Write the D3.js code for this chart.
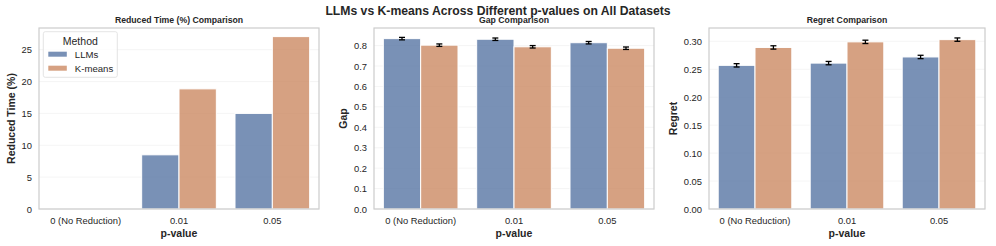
<!DOCTYPE html>
<html>
<head>
<meta charset="utf-8">
<script src="https://cdn.jsdelivr.net/npm/d3@7"></script>
<style>
  body { margin: 0; background: #fff; }
  text { font-family: "Liberation Sans", Arial, sans-serif; fill: #262626; }
</style>
</head>
<body>
<script>
// data
var pvalues = ["0 (No Reduction)", "0.01", "0.05"];
var methods = ["LLMs", "K-means"];
var method_colors = ["#5875a4", "#cc8963"];

var reduced_llms = [0, 8.5, 15.0];
var reduced_kmeans = [0, 18.85, 27.05];

var gap_llms = [0.834, 0.831, 0.814];
var gap_kmeans = [0.802, 0.794, 0.787];
var gap_llms_err = [0.006, 0.006, 0.006];
var gap_kmeans_err = [0.006, 0.006, 0.006];

var regret_llms = [0.257, 0.261, 0.272];
var regret_kmeans = [0.289, 0.299, 0.303];
var regret_llms_err = [0.003, 0.003, 0.003];
var regret_kmeans_err = [0.003, 0.003, 0.003];

var reduced_ticks = [0, 5, 10, 15, 20, 25];
var gap_ticks = [0, 0.1, 0.2, 0.3, 0.4, 0.5, 0.6, 0.7, 0.8];
var regret_ticks = [0, 0.05, 0.10, 0.15, 0.20, 0.25, 0.30];

var W = 996, H = 246;
var svg = d3.select("body").append("svg")
  .attr("width", W)
  .attr("height", H);

svg.append("text")
  .attr("x", 498)
  .attr("y", 15)
  .attr("text-anchor", "middle")
  .style("font-size", "12.2px")
  .style("font-weight", "bold")
  .text("LLMs vs K-means Across Different p-values on All Datasets");

var panels = [
  {left: 39, right: 319, title: "Reduced Time (%) Comparison", ylabel: "Reduced Time (%)",
   series: [reduced_llms, reduced_kmeans], errs: null, ymax: 28.4, ticks: reduced_ticks, fmt: d3.format("d"), legend: true},
  {left: 374, right: 654, title: "Gap Comparison", ylabel: "Gap",
   series: [gap_llms, gap_kmeans], errs: [gap_llms_err, gap_kmeans_err], ymax: 0.886, ticks: gap_ticks, fmt: d3.format(".1f"), legend: false},
  {left: 709, right: 985, title: "Regret Comparison", ylabel: "Regret",
   series: [regret_llms, regret_kmeans], errs: [regret_llms_err, regret_kmeans_err], ymax: 0.3238, ticks: regret_ticks, fmt: d3.format(".2f"), legend: false}
];

var plot_top = 28, plot_bottom = 209;

panels.forEach(function(p){
  var g = svg.append("g");

  var x = d3.scaleBand().domain(pvalues).range([p.left, p.right]).paddingInner(0.2).paddingOuter(0.1);
  var xm = d3.scaleBand().domain(methods).range([0, x.bandwidth()]);
  var y = d3.scaleLinear().domain([0, p.ymax]).range([plot_bottom, plot_top]);

  // faint grid
  g.selectAll("line.grid")
    .data(p.ticks)
    .enter()
    .append("line")
    .attr("class", "grid")
    .attr("x1", p.left).attr("x2", p.right)
    .attr("y1", function(d){ return y(d); })
    .attr("y2", function(d){ return y(d); })
    .style("stroke", "#f3f3f3")
    .style("stroke-width", 0.8);

  // bars
  methods.forEach(function(m, mi){
    var vals = p.series[mi];
    g.selectAll("rect.b" + mi)
      .data(vals)
      .enter()
      .append("rect")
      .attr("class", "b" + mi)
      .attr("x", function(d, i){ return x(pvalues[i]) + xm(m); })
      .attr("y", function(d){ return y(d); })
      .attr("width", xm.bandwidth())
      .attr("height", function(d){ return y(0) - y(d); })
      .style("fill", method_colors[mi])
      .style("fill-opacity", 0.8)
      .style("stroke", "#fff")
      .style("stroke-width", 1);

    if(p.errs){
      var errs = p.errs[mi];
      var eg = g.selectAll("g.e" + mi)
        .data(vals)
        .enter()
        .append("g")
        .attr("class", "e" + mi)
        .attr("transform", function(d, i){
          return "translate(" + (x(pvalues[i]) + xm(m) + xm.bandwidth() / 2) + ",0)";
        });
      eg.append("line")
        .attr("y1", function(d, i){ return y(d - errs[i]); })
        .attr("y2", function(d, i){ return y(d + errs[i]); })
        .style("stroke", "#000").style("stroke-width", 1.3);
      eg.append("line")
        .attr("x1", -3).attr("x2", 3)
        .attr("y1", function(d, i){ return y(d - errs[i]); })
        .attr("y2", function(d, i){ return y(d - errs[i]); })
        .style("stroke", "#000").style("stroke-width", 1.3);
      eg.append("line")
        .attr("x1", -3).attr("x2", 3)
        .attr("y1", function(d, i){ return y(d + errs[i]); })
        .attr("y2", function(d, i){ return y(d + errs[i]); })
        .style("stroke", "#000").style("stroke-width", 1.3);
    }
  });

  // frame
  g.append("rect")
    .attr("x", p.left).attr("y", plot_top)
    .attr("width", p.right - p.left).attr("height", plot_bottom - plot_top)
    .style("fill", "none")
    .style("stroke", "#cccccc")
    .style("stroke-width", 1.2);

  // axes
  var yAxis = d3.axisLeft(y).tickValues(p.ticks).tickFormat(p.fmt).tickSize(0).tickPadding(7);
  var ya = g.append("g").attr("transform", "translate(" + p.left + ",0)").call(yAxis);
  ya.select(".domain").remove();
  ya.selectAll("text").style("font-size", "9.4px").style("fill", "#262626");

  var xAxis = d3.axisBottom(x).tickSize(0).tickPadding(8);
  var xa = g.append("g").attr("transform", "translate(0," + plot_bottom + ")").call(xAxis);
  xa.select(".domain").remove();
  xa.selectAll("text").style("font-size", "9.4px").style("fill", "#262626");

  // titles
  g.append("text")
    .attr("x", (p.left + p.right) / 2)
    .attr("y", 22.5)
    .attr("text-anchor", "middle")
    .style("font-size", "8.7px")
    .style("font-weight", "bold")
    .text(p.title);

  g.append("text")
    .attr("x", (p.left + p.right) / 2)
    .attr("y", 236.5)
    .attr("text-anchor", "middle")
    .style("font-size", "10.5px")
    .style("font-weight", "bold")
    .text("p-value");

  // y label placed next to the tick labels
  var tick_box = ya.node().getBBox();
  var ylab_x = p.left + tick_box.x - 6.5;
  g.append("text")
    .attr("transform", "translate(" + ylab_x + "," + ((plot_top + plot_bottom) / 2) + ") rotate(-90)")
    .attr("text-anchor", "middle")
    .style("font-size", "10.5px")
    .style("font-weight", "bold")
    .text(p.ylabel);

  // legend
  if(p.legend){
    var lg = g.append("g").attr("transform", "translate(" + (p.left + 4.3) + "," + 31.7 + ")");
    lg.append("rect")
      .attr("width", 74).attr("height", 45.6)
      .attr("rx", 2)
      .style("fill", "#fff").style("fill-opacity", 0.8)
      .style("stroke", "#dddddd").style("stroke-width", 0.8);
    lg.append("text")
      .attr("x", 37).attr("y", 13.3)
      .attr("text-anchor", "middle")
      .style("font-size", "10.5px")
      .text("Method");
    var items = lg.selectAll("g.item")
      .data(methods)
      .enter()
      .append("g")
      .attr("class", "item")
      .attr("transform", function(d, i){ return "translate(5," + (20 + i * 14) + ")"; });
    items.append("rect")
      .attr("width", 18.5).attr("height", 5)
      .style("fill", function(d, i){ return method_colors[i]; })
      .style("fill-opacity", 0.8);
    items.append("text")
      .attr("x", 26.5).attr("y", 6.5)
      .style("font-size", "9.6px")
      .text(function(d){ return d; });
  }
});
</script>
</body>
</html>
